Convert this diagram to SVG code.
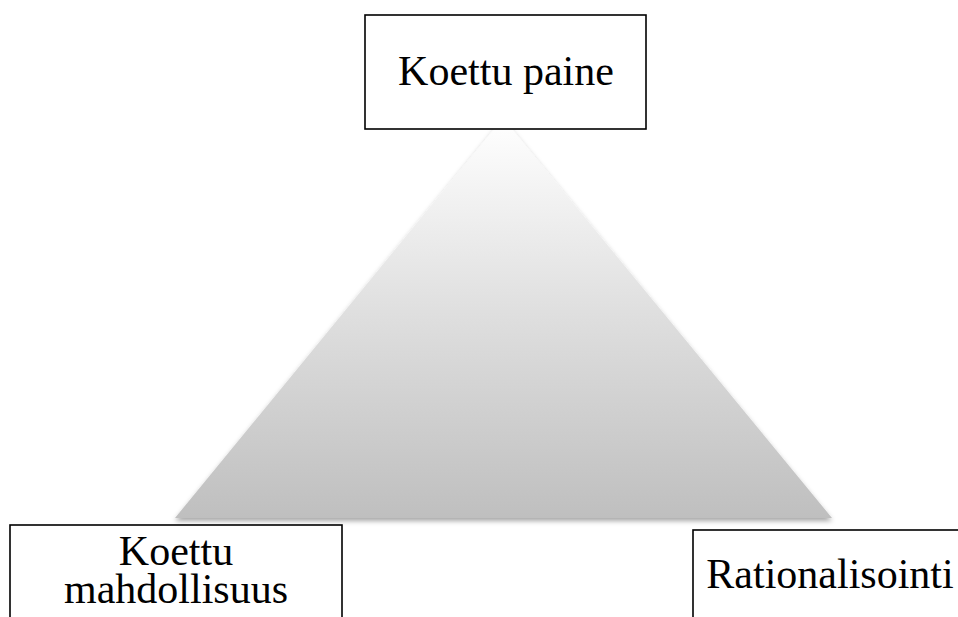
<svg xmlns="http://www.w3.org/2000/svg" width="958" height="617" viewBox="0 0 958 617">
<defs>
<linearGradient id="tg" x1="0" y1="0" x2="0" y2="1">
<stop offset="0" stop-color="#ffffff"/>
<stop offset="0.5" stop-color="#dedede"/>
<stop offset="1" stop-color="#bfbfbf"/>
</linearGradient>
<filter id="sh" x="-10%" y="-10%" width="120%" height="120%">
<feDropShadow dx="0" dy="3" stdDeviation="2.5" flood-color="#000" flood-opacity="0.35"/>
</filter>
</defs>
<style>
.box{fill:#fff;stroke:#000;stroke-width:1.6}
.t{font-family:"Liberation Serif","Times New Roman",serif;font-size:42px;fill:#000;text-anchor:middle}
</style>
<g id="triangle">
<polygon points="503,118 832,518 175,518" fill="url(#tg)" filter="url(#sh)"/>
</g>
<g id="connectors"></g>
<g id="node-paine">
<rect class="box" x="365" y="15" width="281" height="114"/>
<text class="t" x="506" y="85">Koettu paine</text>
</g>
<g id="node-mahdollisuus">
<rect class="box" x="10" y="525" width="332" height="110"/>
<text class="t" x="176" y="565">Koettu</text>
<text class="t" x="176" y="603">mahdollisuus</text>
</g>
<g id="node-rationalisointi">
<rect class="box" x="693" y="530" width="280" height="110"/>
<text class="t" x="830" y="588">Rationalisointi</text>
</g>
</svg>
